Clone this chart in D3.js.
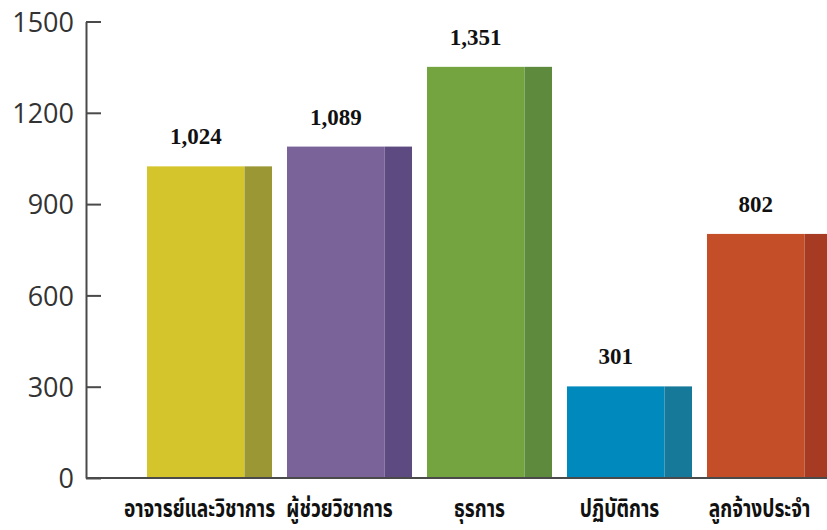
<!DOCTYPE html>
<html>
<head>
<meta charset="utf-8">
<script src="https://cdn.jsdelivr.net/npm/d3@7"></script>
<style>
  body { margin: 0; background: #fff; }
</style>
</head>
<body>
<svg id="chart" width="827" height="530"></svg>
<script>
// data
var categories = ["อาจารย์และวิชาการ", "ผู้ช่วยวิชาการ", "ธุรการ", "ปฏิบัติการ", "ลูกจ้างประจำ"];
var values = [1024, 1089, 1351, 301, 802];
var valueLabels = ["1,024", "1,089", "1,351", "301", "802"];
var yTicks = [0, 300, 600, 900, 1200, 1500];
var frontColors = ["#d3c52b", "#7a6399", "#74a440", "#0089bd", "#c44e27"];
var sideColors = ["#9c9735", "#5d4a80", "#5d8a3c", "#17799a", "#a63a22"];

var svg = d3.select("#chart");

// y scale: 0 at the baseline, 1500 at the top tick
var y = d3.scaleLinear().domain([0, 1500]).range([478, 21.5]);

// bars
var x = d3.scaleBand()
    .domain(categories)
    .range([140, 839])
    .paddingInner(0.107)
    .paddingOuter(0.05);

var sideW = x.bandwidth() * 0.22;

var bars = svg.append("g")
  .selectAll("g")
  .data(categories)
  .enter().append("g");

// front face
bars.append("rect")
    .attr("x", function(d) { return x(d); })
    .attr("y", function(d, i) { return y(values[i]); })
    .attr("width", x.bandwidth() - sideW)
    .attr("height", function(d, i) { return y(0) - y(values[i]); })
    .attr("fill", function(d, i) { return frontColors[i]; });

// darker side
bars.append("rect")
    .attr("x", function(d) { return x(d) + x.bandwidth() - sideW; })
    .attr("y", function(d, i) { return y(values[i]); })
    .attr("width", sideW)
    .attr("height", function(d, i) { return y(0) - y(values[i]); })
    .attr("fill", function(d, i) { return sideColors[i]; });

// baseline
svg.append("line")
    .attr("x1", 86).attr("x2", 827)
    .attr("y1", y(0)).attr("y2", y(0))
    .attr("stroke", "#4a4a4a")
    .attr("stroke-width", 2);

// y axis, ticks point into the plot
var yAxis = svg.append("g")
    .attr("transform", "translate(86,0)")
    .call(d3.axisLeft(y).tickValues(yTicks).tickFormat(d3.format("d"))
      .tickSizeInner(-15).tickSizeOuter(0).tickPadding(12));

yAxis.select(".domain").attr("stroke", "#4a4a4a").attr("stroke-width", 2);
yAxis.selectAll(".tick line").attr("stroke", "#4a4a4a").attr("stroke-width", 2);
yAxis.selectAll(".tick text")
    .attr("font-family", "'Open Sans', sans-serif")
    .attr("font-size", 27)
    .attr("fill", "#333")
    .attr("dy", "0.36em");

// value labels over each bar
bars.append("text")
    .attr("x", function(d) { return x(d) + (x.bandwidth() - sideW) / 2; })
    .attr("y", function(d, i) { return y(values[i]) - 22; })
    .attr("text-anchor", "middle")
    .attr("font-family", "'Liberation Serif', 'Times New Roman', serif")
    .attr("font-weight", "bold")
    .attr("font-size", 23)
    .attr("fill", "#111")
    .text(function(d, i) { return valueLabels[i]; });

// category labels under the axis (condensed, like the original)
svg.append("g")
  .selectAll("text")
  .data(categories)
  .enter().append("text")
    .attr("transform", function(d) {
      return "translate(" + (x(d) + x.bandwidth() / 2 - 10) + ",517) scale(0.8,1)";
    })
    .attr("text-anchor", "middle")
    .attr("font-family", "'Noto Sans Thai', 'Noto Sans', 'DejaVu Sans', sans-serif")
    .attr("font-weight", "bold")
    .attr("font-size", 24)
    .attr("fill", "#111")
    .text(function(d) { return d; });
</script>
</body>
</html>
